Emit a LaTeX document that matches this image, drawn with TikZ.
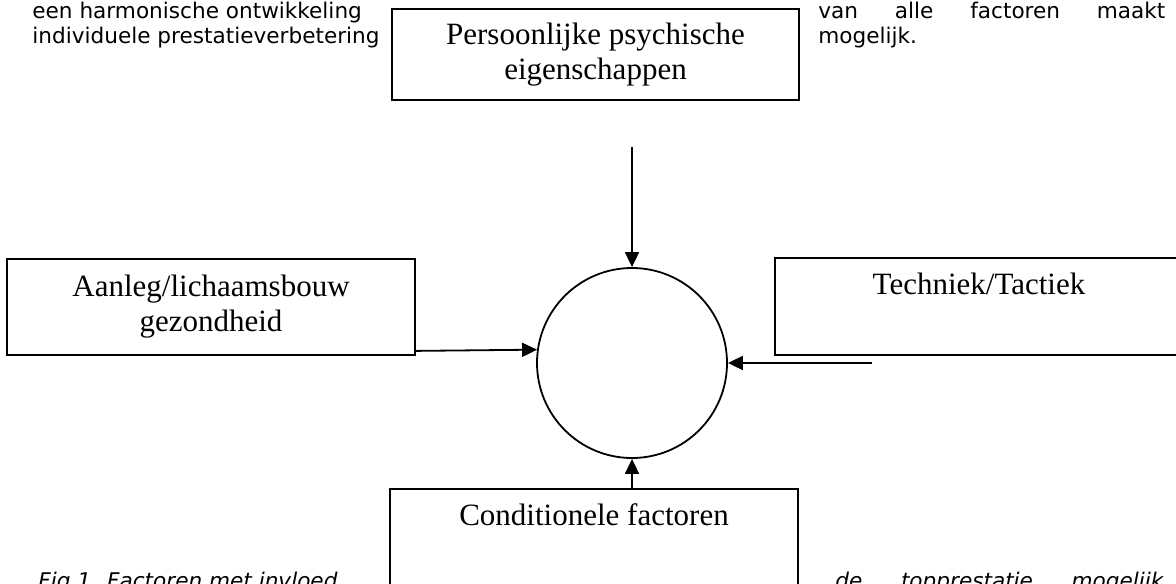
\documentclass[tikz,border=0pt]{standalone}
\usepackage{fontspec}
\setmainfont{Liberation Serif}
\newfontfamily\verdana{DejaVu Sans}
\usetikzlibrary{arrows.meta}

\begin{document}
\begin{tikzpicture}[x=0.5pt, y=-0.5pt,
        factor/.style={rectangle, draw=black, line width=0.9pt, align=center, inner sep=0pt, font=\fontsize{15.5}{17.5}\selectfont},
        prose/.style={anchor=base west, inner sep=0pt, font=\verdana\fontsize{10.8}{12.5}\selectfont},
        >={Triangle[length=7.5pt, width=7pt]}]
        \clip (0,0) rectangle (1176,583);
        \fill[white] (0,0) rectangle (1176,583);

        \node[prose] (intro1) at (32,19) {een harmonische ontwikkeling};
        \node[prose] (intro2) at (32,44) {individuele prestatieverbetering};
        \node[prose] (intro3) at (818,19) {\makebox[173.5pt][s]{van alle factoren maakt}};
        \node[prose] (intro4) at (818,44) {mogelijk.};

        \node[factor, minimum width=203.5pt, minimum height=45.5pt] (psych) at (595.5,54.5) {Persoonlijke psychische\\eigenschappen};
        \node[factor, minimum width=204pt, minimum height=48pt] (aanleg) at (211,307) {Aanleg/lichaamsbouw\\gezondheid};
        \node[factor, minimum width=204pt, minimum height=48.5pt] (techniek) at (979,306.5) {Techniek/Tactiek\\\strut};
        \node[factor, minimum width=204pt, minimum height=48pt] (conditie) at (594,537) {Conditionele factoren\\\strut};

        \node[circle, draw=black, line width=0.9pt, minimum size=95pt, inner sep=0pt] (kern) at (632,363) {};

        \coordinate (ptop) at (632,147);
        \coordinate (ptech) at (872,363);

        \path[->, line width=0.9pt]
        (ptop) edge (kern.north)
        ([yshift=2.5pt]aanleg.south east) edge (kern.172)
        (ptech) edge (kern.east)
        (kern.south |- conditie.north) edge (kern.south);
        %(psych) edge (kern);

        \node[prose, font=\verdana\itshape\fontsize{10.8}{12.5}\selectfont] (cap1) at (38,588) {Fig 1. Factoren met invloed};
        \node[prose, font=\verdana\itshape\fontsize{10.8}{12.5}\selectfont] (cap2) at (835,588) {\makebox[164pt][s]{de topprestatie mogelijk}};
    \end{tikzpicture}
\end{document}
